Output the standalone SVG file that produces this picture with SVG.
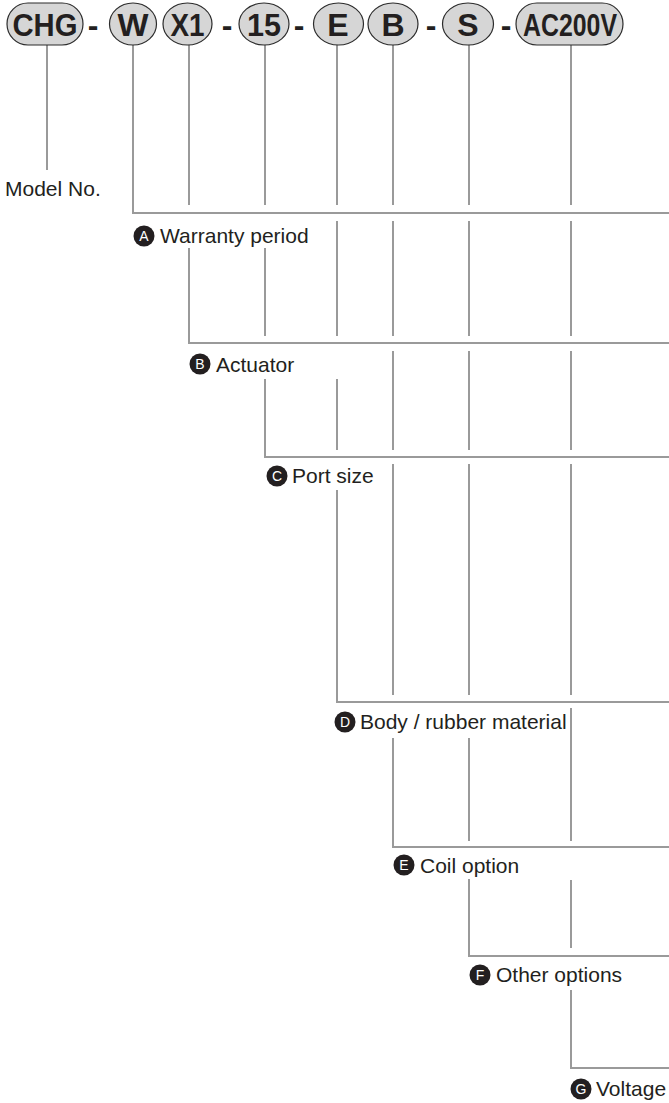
<svg xmlns="http://www.w3.org/2000/svg" width="669" height="1103" viewBox="0 0 669 1103">
<style>
.pill{fill:#d6d6d6;stroke:#2b2b2b;stroke-width:1.2}
.pt{font-family:"Liberation Sans",Arial,sans-serif;font-weight:bold;font-size:32px;fill:#231f20;text-anchor:middle}
.dash{font-family:"Liberation Sans",Arial,sans-serif;font-weight:bold;font-size:32px;fill:#231f20;text-anchor:middle}
.ln{fill:none;stroke:#9a9a9a;stroke-width:2}
.lb{font-family:"Liberation Sans",Arial,sans-serif;font-size:21px;fill:#231f20}
.bc{fill:#231f20}
.bl{font-family:"Liberation Sans",Arial,sans-serif;font-size:14px;fill:#ffffff;text-anchor:middle}
</style>
<rect width="669" height="1103" fill="#ffffff"/>
<g id="connectors">
<path class="ln" d="M47 45V170"/>
<path class="ln" d="M133 45V213H669"/>
<path class="ln" d="M189 45V205M189 248V343H669"/>
<path class="ln" d="M265 45V205M265 248V336M265 379V457H669"/>
<path class="ln" d="M337 45V205M337 221V336M337 379V450M337 490V702H669"/>
<path class="ln" d="M393 45V205M393 221V336M393 351V450M393 464V695M393 738V847H669"/>
<path class="ln" d="M469 45V205M469 221V336M469 351V450M469 464V695M469 738V841M469 879V956H669"/>
<path class="ln" d="M571 45V205M571 221V336M571 351V450M571 464V695M571 708V841M571 880V948M571 990V1068H669"/>
</g>
<g id="code">
<g id="p-chg"><rect class="pill" x="7" y="3" width="76" height="42" rx="21"/><text class="pt" x="45" y="36" textLength="65" lengthAdjust="spacingAndGlyphs">CHG</text></g>
<text class="dash" x="93" y="36">-</text>
<g id="p-w"><ellipse class="pill" cx="133" cy="24" rx="23.5" ry="21"/><text class="pt" x="133" y="36" textLength="31" lengthAdjust="spacingAndGlyphs">W</text></g>
<g id="p-x1"><ellipse class="pill" cx="187.5" cy="24" rx="24.5" ry="21"/><text class="pt" x="187.5" y="36" textLength="34" lengthAdjust="spacingAndGlyphs">X1</text></g>
<text class="dash" x="227" y="36">-</text>
<g id="p-15"><ellipse class="pill" cx="264" cy="24" rx="25" ry="21"/><text class="pt" x="264" y="36" textLength="34" lengthAdjust="spacingAndGlyphs">15</text></g>
<text class="dash" x="299" y="36">-</text>
<g id="p-e"><ellipse class="pill" cx="338.5" cy="24" rx="25" ry="21"/><text class="pt" x="338" y="36">E</text></g>
<g id="p-b"><ellipse class="pill" cx="393" cy="24" rx="25" ry="21"/><text class="pt" x="393" y="36">B</text></g>
<text class="dash" x="431" y="36">-</text>
<g id="p-s"><ellipse class="pill" cx="468" cy="24" rx="25.5" ry="21"/><text class="pt" x="468" y="36">S</text></g>
<text class="dash" x="506" y="36">-</text>
<g id="p-ac"><rect class="pill" x="516" y="3" width="107" height="42" rx="21"/><text class="pt" x="570" y="36" textLength="94" lengthAdjust="spacingAndGlyphs">AC200V</text></g>
</g>
<g id="model"><text class="lb" x="5" y="196">Model No.</text></g>
<g id="label-a"><circle class="bc" cx="144" cy="236" r="10.5"/><text class="bl" x="144" y="241">A</text><text class="lb" x="160" y="243">Warranty period</text></g>
<g id="label-b"><circle class="bc" cx="200" cy="364" r="10.5"/><text class="bl" x="200" y="369">B</text><text class="lb" x="216" y="372">Actuator</text></g>
<g id="label-c"><circle class="bc" cx="277" cy="476" r="10.5"/><text class="bl" x="277" y="481">C</text><text class="lb" x="292" y="483">Port size</text></g>
<g id="label-d"><circle class="bc" cx="345" cy="722" r="10.5"/><text class="bl" x="345" y="727">D</text><text class="lb" x="360" y="729">Body / rubber material</text></g>
<g id="label-e"><circle class="bc" cx="404" cy="865" r="10.5"/><text class="bl" x="404" y="870">E</text><text class="lb" x="420" y="873">Coil option</text></g>
<g id="label-f"><circle class="bc" cx="480" cy="975" r="10.5"/><text class="bl" x="480" y="980">F</text><text class="lb" x="496" y="982">Other options</text></g>
<g id="label-g"><circle class="bc" cx="581" cy="1089" r="10.5"/><text class="bl" x="581" y="1094">G</text><text class="lb" x="596" y="1096">Voltage</text></g>
</svg>
